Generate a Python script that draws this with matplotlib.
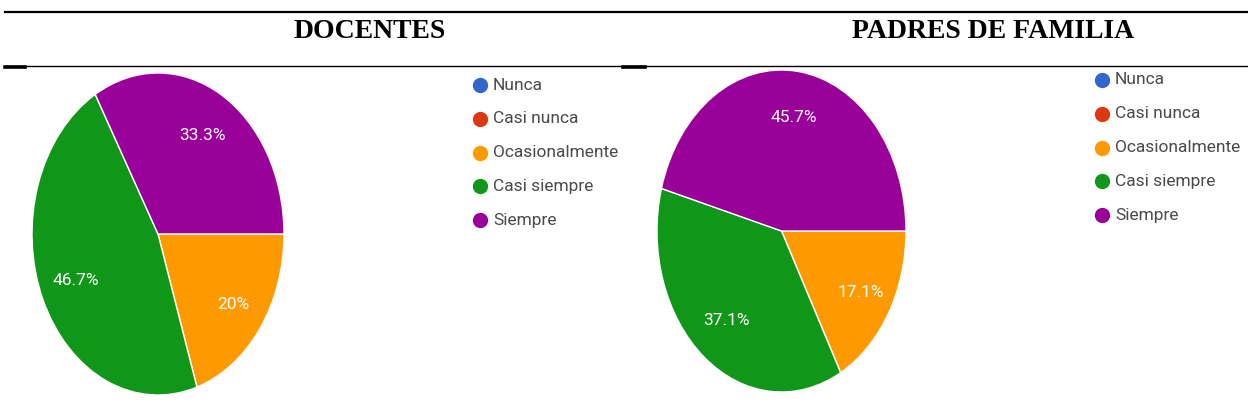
import numpy as np
import matplotlib.pyplot as plt
from matplotlib.lines import Line2D

# survey answers (Google Forms style)
categorias = ["Nunca", "Casi nunca", "Ocasionalmente", "Casi siempre", "Siempre"]
colores = ["#3366cc", "#dc3912", "#ff9900", "#109618", "#990099"]

docentes = [0, 0, 20.0, 46.7, 33.3]
padres = [0, 0, 17.1, 37.1, 45.7]

titulos = ["DOCENTES", "PADRES DE FAMILIA"]

W, H = 1248, 418
fig = plt.figure(figsize=(W / 100, H / 100), dpi=100)


def px(x, y):
    """pixel (top-left origin) -> figure fraction"""
    return x / W, 1 - y / H


def hline(x0, x1, y, lw):
    a, b = px(x0, y)
    c, _ = px(x1, y)
    fig.add_artist(Line2D([a, c], [b, b], color="black", lw=lw,
                          transform=fig.transFigure))


def fmt(v):
    s = f"{v:.1f}"
    return (s[:-2] if s.endswith(".0") else s) + "%"


def draw_pie(box, values, legend_xy):
    x0, y0, x1, y1 = box
    l, b = px(x0, y1)
    ax = fig.add_axes([l, b, (x1 - x0) / W, (y1 - y0) / H])
    wedges, _ = ax.pie(values, colors=colores, startangle=0, counterclock=False,
                       wedgeprops=dict(edgecolor="white", linewidth=1.0))
    # the original pies are stretched vertically
    ax.set_aspect("auto")
    ax.set_xlim(-1.0, 1.0)
    ax.set_ylim(-1.0, 1.0)

    # percentage labels, only for non-empty slices
    for w, v in zip(wedges, values):
        if v <= 0:
            continue
        ang = np.deg2rad((w.theta1 + w.theta2) / 2)
        r = 0.74 if v < 25 else 0.71
        ax.text(r * np.cos(ang), r * np.sin(ang), fmt(v), color="white",
                ha="center", va="center", fontsize=12.5, family="Roboto")

    # legend drawn as marker + text rows
    lx, ly = legend_xy
    for i, (lab, col) in enumerate(zip(categorias, colores)):
        mx, my = px(lx, ly + i * 33.8)
        fig.add_artist(Line2D([mx], [my], marker="o", markersize=10, color=col,
                              linestyle="none", transform=fig.transFigure))
        tx, _ = px(lx + 13, 0)
        fig.text(tx, my, lab, color="#4a4a4a", fontsize=12.5, family="Roboto",
                 va="center", ha="left")


draw_pie((32, 73, 284, 395), docentes, (480, 85))
draw_pie((657, 70, 906, 392), padres, (1102, 80))

# table rules
hline(5, 1248, 12, 1.6)
hline(5, 1248, 66, 1.0)
hline(5, 25, 66.5, 2.6)
hline(623, 645, 66.5, 2.6)

for t, cx in zip(titulos, [370, 993]):
    x, y = px(cx, 32)
    fig.text(x, y, t, ha="center", va="center", fontsize=20, fontweight="bold",
             family="Liberation Serif")

fig.savefig("out.png", dpi=100)
